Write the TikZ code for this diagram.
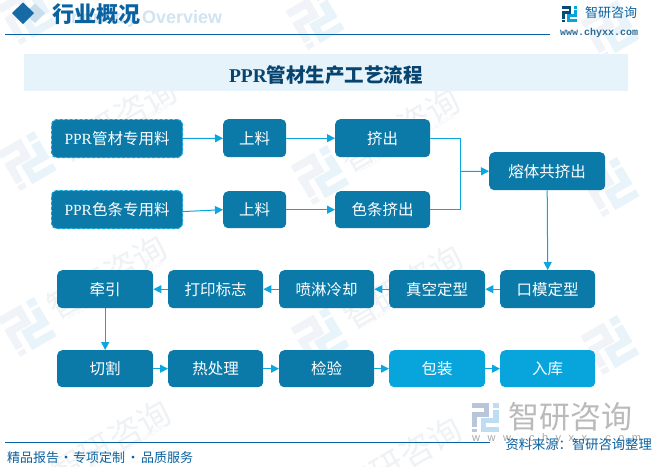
\documentclass[tikz,border=0pt]{standalone}
\usepackage{fontspec}
\setmainfont{Noto Sans CJK SC}
\newfontfamily\lat{Liberation Serif}
\newfontfamily\latb{Liberation Sans}
\newfontfamily\latm{Liberation Mono}
\usetikzlibrary{arrows.meta,calc}
\definecolor{boxc}{HTML}{0B7AA8}
\definecolor{lightc}{HTML}{08A5DC}
\definecolor{arrc}{HTML}{0BA6DF}
\definecolor{band}{HTML}{E6F3FB}
\definecolor{navy}{HTML}{0A62A0}
\definecolor{wma}{HTML}{F0F3F7}
\definecolor{wmb}{HTML}{E8F4FA}
\definecolor{wmt}{HTML}{EFF2F5}
\definecolor{fta}{HTML}{B9C5DA}
\definecolor{ftb}{HTML}{BFDDF2}
\tikzset{
  proc/.style={rounded corners=5pt,fill=boxc,text=white,font=\fontsize{15.5}{18}\selectfont,anchor=north west,inner sep=0pt,align=center},
  flow/.style={draw=arrc,line width=1pt,-{Triangle[length=8pt,width=8pt]}},
  flowp/.style={draw=arrc,line width=1pt},
  wmtext/.style={text=wmt,font=\fontsize{33}{34}\selectfont,rotate=30,inner sep=0pt},
  wmsmall/.style={text=wmt,font=\latb\fontsize{6.5}{7}\selectfont,rotate=30,inner sep=0pt},
}
\newcommand{\bx}[6][]{\node[proc,minimum width=#4pt,minimum height=#5pt,#1] (#2) at (#3) {#6};}
% logo, drawn in a 27 x 29 cell
\newcommand{\logoshape}[2]{%
  \fill[#1] (0,0) rectangle (17,5);
  \fill[#1] (12,0) rectangle (17,14);
  \fill[#1] (0,9) rectangle (17,14);
  \fill[#1] (0,9) rectangle (5,24);
  \fill[#1] (0,25.5) rectangle (5,29);
  \fill[#2] (21,0) rectangle (27,5);
  \fill[#2] (21,7) rectangle (27,20);
  \fill[#2] (9,15) rectangle (27,20);
  \fill[#2] (9,15) rectangle (14,29);
  \fill[#2] (9,24) rectangle (27,29);
}
\newcommand{\wmlogo}[2]{%
 \begin{scope}[shift={(#1,#2)},rotate=30,scale=1.55]
  \begin{scope}[shift={(-13.5,-14.5)}]\logoshape{wma}{wmb}\end{scope}
 \end{scope}}
\begin{document}
\begin{tikzpicture}[x=1pt,y=-1pt]
\useasboundingbox (0,0) rectangle (655,466);
\fill[white] (0,0) rectangle (655,466);
% watermarks
\wmlogo{27}{15}
\wmlogo{315}{20}
\wmlogo{610}{30}
\wmlogo{27}{161}
\wmlogo{320}{175}
\wmlogo{610}{187}
\wmlogo{27}{327}
\wmlogo{320}{337}
\wmlogo{610}{345}
\node[wmtext] (w1) at (117,120) {智研咨询};
\node[wmtext] (w2) at (400,130) {智研咨询};
\node[wmtext] (w3) at (107,277) {智研咨询};
\node[wmtext] (w4) at (403,287) {智研咨询};
\node[wmtext] (w5) at (111,442) {智研咨询};
\node[wmtext] (w6) at (402,459) {智研咨询};
\node[wmsmall] (s1) at (121,133) {INTELLECTUAL RESEARCH GROUP};
\node[wmsmall] (s2) at (407,143) {INTELLECTUAL RESEARCH GROUP};
\node[wmsmall] (s3) at (116,290) {INTELLECTUAL RESEARCH GROUP};
\node[wmsmall] (s4) at (407,300) {INTELLECTUAL RESEARCH GROUP};
\node[wmsmall] (s5) at (115,455) {INTELLECTUAL RESEARCH GROUP};
% header
\node[font=\latb\bfseries\fontsize{18}{20}\selectfont,text=band!90!navy,anchor=west,inner sep=0pt] (ov) at (66,19) {Industry Overview};
\fill[navy!22] (35,3.5)--(45,13)--(35,23)--(25,13)--cycle;
\fill[navy!95] (23,2.5)--(34,13)--(23,24)--(12,13)--cycle;
\node[font=\bfseries\fontsize{22}{24}\selectfont,text=navy,anchor=west,inner sep=0pt] (hd) at (52,14) {行业概况};
\draw[navy,line width=1pt] (5,34)--(550,34);
\begin{scope}[shift={(562,6)},scale=0.55]
\logoshape{navy!75!black}{lightc}
\end{scope}
\node[font=\fontsize{13}{15}\selectfont,text=navy,anchor=west,inner sep=0pt] (bn) at (585,13) {智研咨询};
\node[font=\latm\bfseries\fontsize{10}{11}\selectfont,text=navy!70!gray,anchor=west,inner sep=0pt] (url) at (560,33) {www.chyxx.com};
% title band
\fill[band] (24,54) rectangle (628,91);
\node[font=\bfseries\fontsize{19.5}{22}\selectfont,text=navy!70!black,inner sep=0pt] (title) at (326,75) {{\lat\bfseries PPR}管材生产工艺流程};
% boxes
\bx[draw=lightc,line width=1.1pt,densely dashed]{a1}{51,119}{131}{38}{{\lat PPR}管材专用料}
\bx[draw=lightc,line width=1.1pt,densely dashed]{a2}{51,190}{131}{38}{{\lat PPR}色条专用料}
\bx{b1}{223,119}{63}{38}{上料}
\bx{b2}{223,191}{63}{37}{上料}
\bx{c1}{335,119}{95}{38}{挤出}
\bx{c2}{335,191}{95}{37}{色条挤出}
\bx{d}{489,152}{116}{38}{熔体共挤出}
\bx{e1}{500,270}{95}{38}{口模定型}
\bx{e2}{389,270}{96}{38}{真空定型}
\bx{e3}{279,270}{95}{38}{喷淋冷却}
\bx{e4}{168,270}{95}{38}{打印标志}
\bx{e5}{57,270}{96}{38}{牵引}
\bx{f1}{57,350}{96}{37}{切割}
\bx{f2}{168,350}{95}{37}{热处理}
\bx{f3}{279,350}{95}{37}{检验}
\bx[fill=lightc]{f4}{389,350}{96}{37}{包装}
\bx[fill=lightc]{f5}{500,350}{95}{37}{入库}
% connectors
\coordinate (j) at (460,171.5);
\draw[flow] (a1)--(b1);
\draw[flow] ($(a2.east)+(0,2)$)--(b2.west);
\draw[flow] (b1)--(c1);
\draw[flow] (b2)--(c2);
\draw[flowp] (c1.east)-|(j);
\draw[flowp] (c2.east)-|(j);
\draw[flow] (j)--(d.west);
\draw[flow] (d.south)--(e1.north);
\draw[flow] (e1)--(e2);
\draw[flow] (e2)--(e3);
\draw[flow] (e3)--(e4);
\draw[flow] (e4)--(e5);
\draw[flow] (e5)--(f1);
\draw[flow] (f1)--(f2);
\draw[flow] (f2)--(f3);
\draw[flow] (f3)--(f4);
\draw[flow] (f4)--(f5);
% footer
\node[font=\fontsize{31}{32}\selectfont,text=black!27,anchor=west,inner sep=0pt] (bb) at (508,417) {智研咨询};
\begin{scope}[shift={(472,403)}]
\logoshape{fta}{ftb}
\end{scope}
\node[font=\latb\fontsize{11}{12}\selectfont,text=black!35,anchor=west,inner sep=0pt] (bu) at (472,439) {w\hspace{7.5pt}w\hspace{7.5pt}w\hspace{7.5pt}.\hspace{7.5pt}c\hspace{7.5pt}h\hspace{7.5pt}y\hspace{7.5pt}x\hspace{7.5pt}x\hspace{7.5pt}.\hspace{7.5pt}c\hspace{7.5pt}o\hspace{7.5pt}m};
\draw[navy,line width=1pt] (5,442)--(490,442);
\node[font=\fontsize{13.3}{15}\selectfont,text=navy,anchor=east,inner sep=0pt] (src) at (652,444) {资料来源：智研咨询整理};
\node[font=\fontsize{13}{15}\selectfont,text=navy,anchor=west,inner sep=0pt] (slog) at (7,458) {精品报告\makebox[14pt]{·}专项定制\makebox[16pt]{·}品质服务};
\end{tikzpicture}
\end{document}
